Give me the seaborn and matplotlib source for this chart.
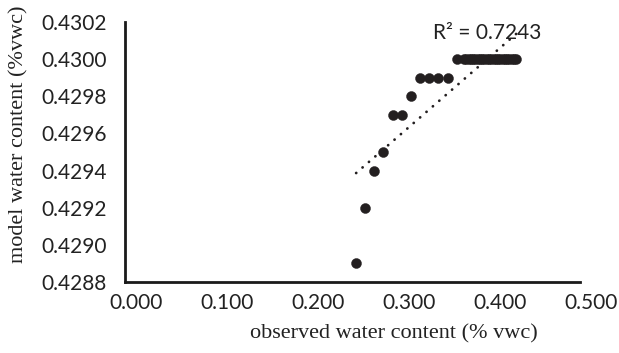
import numpy as np
import pandas as pd
import matplotlib
matplotlib.use("Agg")
import matplotlib.pyplot as plt
import matplotlib.transforms as mtransforms
from matplotlib.ticker import FormatStrFormatter, MultipleLocator
import seaborn as sns

# observed vs modelled water content
observed = [0.254, 0.264, 0.274, 0.284, 0.294, 0.304, 0.314, 0.324, 0.334, 0.344,
            0.355, 0.365,
            0.3725, 0.375, 0.3775, 0.380, 0.3825, 0.385, 0.3875, 0.390, 0.3925, 0.395,
            0.3975, 0.400, 0.4025, 0.405, 0.4075, 0.410, 0.4125, 0.415, 0.4175, 0.420,
            0.4225, 0.425, 0.4275, 0.430]
model = [0.4289, 0.4292, 0.4294, 0.4295, 0.4297, 0.4297, 0.4298, 0.4299, 0.4299, 0.4299,
         0.4299, 0.4300,
         0.4300, 0.4300, 0.4300, 0.4300, 0.4300, 0.4300, 0.4300, 0.4300, 0.4300, 0.4300,
         0.4300, 0.4300, 0.4300, 0.4300, 0.4300, 0.4300, 0.4300, 0.4300, 0.4300, 0.4300,
         0.4300, 0.4300, 0.4300, 0.4300]
r2_label = "R\u00b2 = 0.7243"
x_label = "observed water content (% vwc)"
y_label = "model water content (%vwc)"

df = pd.DataFrame({"observed": observed, "model": model})

sns.set_theme(style="white")
plt.rcParams["font.family"] = ["Lato", "DejaVu Sans"]

fig = plt.figure(figsize=(6.19, 3.53), dpi=100)
ax = fig.add_axes([125 / 619, 71 / 353, 455 / 619, 260 / 353])

ink = "#231f20"
sns.scatterplot(data=df, x="observed", y="model", ax=ax, color=ink, s=52,
                edgecolor=ink, linewidth=0.3, zorder=3, legend=False)
sns.regplot(data=df, x="observed", y="model", ax=ax, scatter=False, ci=None,
            truncate=True, color=ink,
            line_kws=dict(linestyle=(0, (0.05, 3.0)), linewidth=2.0,
                          dash_capstyle="round", zorder=4))

ax.set_xlim(0, 0.5)
ax.set_ylim(0.4288, 0.4302)
ax.xaxis.set_major_locator(MultipleLocator(0.1))
ax.yaxis.set_major_locator(MultipleLocator(0.0002))
ax.xaxis.set_major_formatter(FormatStrFormatter("%.3f"))
ax.yaxis.set_major_formatter(FormatStrFormatter("%.4f"))
ax.tick_params(axis="both", length=0, labelsize=15, colors="#222222")
ax.tick_params(axis="x", pad=8)
ax.tick_params(axis="y", pad=13)

offset = mtransforms.ScaledTranslation(11 / 100, 0, fig.dpi_scale_trans)
for lab in ax.get_xticklabels():
    lab.set_transform(lab.get_transform() + offset)

for side in ["top", "right"]:
    ax.spines[side].set_visible(False)
for side in ["left", "bottom"]:
    ax.spines[side].set_color("#1a1a1a")
    ax.spines[side].set_linewidth(2.0)

ax.set_xlabel("")
ax.set_ylabel("")
fig.text(394 / 619, 1 - 334 / 353, x_label, ha="center", va="center",
         fontsize=16, family="Liberation Serif", color="#222222")
fig.text(19 / 619, 1 - 134 / 353, y_label, ha="center", va="center",
         rotation=90, fontsize=16, family="Liberation Serif", color="#222222")

ax.text(0.398, 0.43014, r2_label, ha="center", va="center", fontsize=15,
        color="#222222")

fig.savefig("out.png", dpi=100)
